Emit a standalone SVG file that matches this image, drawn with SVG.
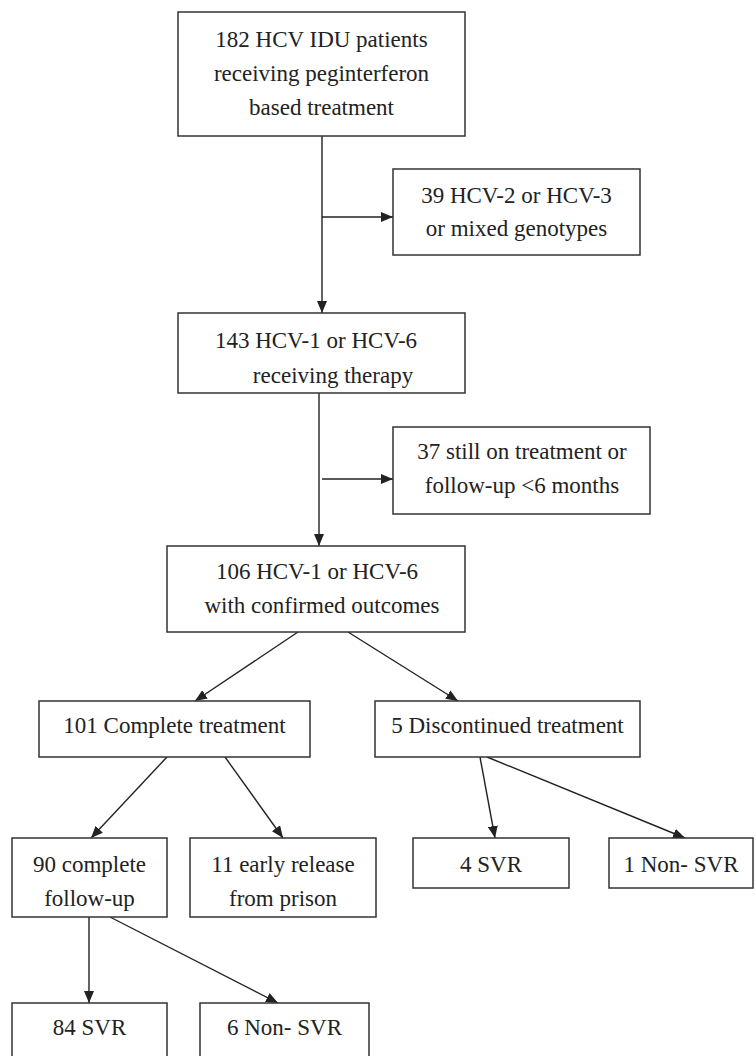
<svg xmlns="http://www.w3.org/2000/svg" width="756" height="1056" viewBox="0 0 756 1056">
<style>
.box{fill:#fff;stroke:#333;stroke-width:1.5}
.t{font-size:23px;fill:#222;text-anchor:middle}
.c{stroke:#222;stroke-width:1.4;fill:none;marker-end:url(#ah)}
</style>
<defs>
<marker id="ah" markerUnits="userSpaceOnUse" markerWidth="12" markerHeight="10" refX="12" refY="5" orient="auto">
<path d="M0,0 L12,5 L0,10 z" fill="#222"/>
</marker>
</defs>
<rect width="756" height="1056" fill="#fff"/>
<g id="connectors">
<line class="c" x1="322" y1="136" x2="322" y2="313"/>
<line class="c" x1="322" y1="217" x2="393" y2="217"/>
<line class="c" x1="319" y1="393" x2="319" y2="546"/>
<line class="c" x1="322" y1="479" x2="393" y2="479"/>
<line class="c" x1="298" y1="632" x2="195" y2="701"/>
<line class="c" x1="348" y1="632" x2="458" y2="701"/>
<line class="c" x1="167" y1="757" x2="91" y2="838"/>
<line class="c" x1="225" y1="757" x2="283" y2="838"/>
<line class="c" x1="480" y1="757" x2="495" y2="838"/>
<line class="c" x1="487" y1="757" x2="685" y2="838"/>
<line class="c" x1="89" y1="917" x2="89" y2="1003"/>
<line class="c" x1="110" y1="917" x2="278" y2="1003"/>
</g>
<g font-family="Liberation Serif, Times New Roman, serif">
<g id="n182">
<rect class="box" x="178" y="12" width="287" height="124"/>
<text class="t" x="321.5" y="47">182 HCV IDU patients</text>
<text class="t" x="321.5" y="81">receiving peginterferon</text>
<text class="t" x="321.5" y="115">based treatment</text>
</g>
<g id="n39">
<rect class="box" x="393" y="169" width="247" height="86"/>
<text class="t" x="516.5" y="203">39 HCV-2 or HCV-3</text>
<text class="t" x="516.5" y="236">or mixed genotypes</text>
</g>
<g id="n143">
<rect class="box" x="178" y="313" width="287" height="80"/>
<text class="t" x="316" y="348">143 HCV-1 or HCV-6</text>
<text class="t" x="333" y="383">receiving therapy</text>
</g>
<g id="n37">
<rect class="box" x="393" y="427" width="257" height="87"/>
<text class="t" x="522" y="459">37 still on treatment or</text>
<text class="t" x="522" y="493">follow-up &lt;6 months</text>
</g>
<g id="n106">
<rect class="box" x="167" y="546" width="298" height="86"/>
<text class="t" x="317" y="579">106 HCV-1 or HCV-6</text>
<text class="t" x="322" y="613">with confirmed outcomes</text>
</g>
<g id="n101">
<rect class="box" x="39" y="701" width="271" height="56"/>
<text class="t" x="174.5" y="733">101 Complete treatment</text>
</g>
<g id="n5">
<rect class="box" x="375" y="701" width="265" height="56"/>
<text class="t" x="507.5" y="733">5 Discontinued treatment</text>
</g>
<g id="n90">
<rect class="box" x="12" y="838" width="155" height="79"/>
<text class="t" x="89.5" y="872">90 complete</text>
<text class="t" x="89.5" y="906">follow-up</text>
</g>
<g id="n11">
<rect class="box" x="190" y="838" width="186" height="79"/>
<text class="t" x="283" y="872">11 early release</text>
<text class="t" x="283" y="906">from prison</text>
</g>
<g id="n4">
<rect class="box" x="413" y="838" width="156" height="50"/>
<text class="t" x="491" y="872">4 SVR</text>
</g>
<g id="n1">
<rect class="box" x="609" y="838" width="144" height="50"/>
<text class="t" x="681" y="872">1 Non- SVR</text>
</g>
<g id="n84">
<rect class="box" x="12" y="1003" width="155" height="60"/>
<text class="t" x="89.5" y="1035">84 SVR</text>
</g>
<g id="n6">
<rect class="box" x="200" y="1003" width="169" height="60"/>
<text class="t" x="284.5" y="1035">6 Non- SVR</text>
</g>
</g>
</svg>
